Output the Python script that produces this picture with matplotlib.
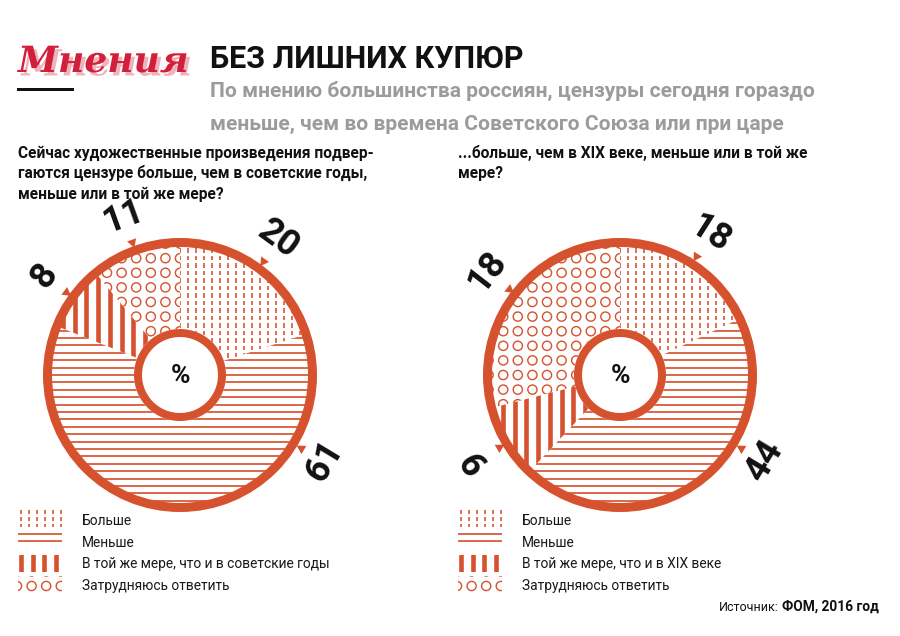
import numpy as np
import matplotlib
matplotlib.use('Agg')
import matplotlib.pyplot as plt
import matplotlib.patheffects as pe
from matplotlib.collections import LineCollection, PatchCollection
from matplotlib.patches import Circle, Rectangle

plt.rcParams['font.family'] = ['Roboto', 'DejaVu Sans']

# data
patterns = ['dash', 'hline', 'bar', 'ring']
left_values = [20, 61, 8, 11]
left_labels = ['20', '61', '8', '11']
right_values = [18, 44, 9, 29]
right_labels = ['18', '44', '9', '18']
left_legend = ['Больше', 'Меньше', 'В той же мере, что и в советские годы',
               'Затрудняюсь ответить']
right_legend = ['Больше', 'Меньше', 'В той же мере, что и в XIX веке',
                'Затрудняюсь ответить']
left_question = ['Сейчас художественные произведения подвер-',
                 'гаются цензуре больше, чем в советские годы,',
                 'меньше или в той же мере?']
right_question = ['...больше, чем в XIX веке, меньше или в той же',
                  'мере?']
title = 'БЕЗ ЛИШНИХ КУПЮР'
subtitle = ['По мнению большинства россиян, цензуры сегодня гораздо',
            'меньше, чем во времена Советского Союза или при царе']

W, H = 900, 636
PT = 0.72
ORANGE = '#d6522e'

fig = plt.figure(figsize=(W / 100, H / 100), dpi=100)
ax0 = fig.add_axes([0, 0, 1, 1])
ax0.set_xlim(0, W)
ax0.set_ylim(H, 0)
ax0.axis('off')


def draw_pattern(ax, kind, clip, ext, x0=0.0, y0=0.0):
    "Texture lines / circles over ext, clipped to a patch"
    xa, xb, ya, yb = ext
    if kind == 'dash':
        xs = np.concatenate([np.arange(x0 - 8.0, xa, -8.0)[::-1],
                             np.arange(x0, xb, 8.0)])
        ys = np.arange(ya, yb, 7.5)
        segs = [[(x, y), (x, y + 4.5)] for x in xs for y in ys]
        art = LineCollection(segs, colors=ORANGE, linewidths=1.6 * PT,
                             capstyle='butt')
    elif kind == 'hline':
        ys = np.concatenate([np.arange(y0 - 7.4, ya, -7.4)[::-1],
                             np.arange(y0, yb, 7.4)])
        segs = [[(xa, y), (xb, y)] for y in ys]
        art = LineCollection(segs, colors=ORANGE, linewidths=1.7 * PT)
    elif kind == 'bar':
        xs = np.concatenate([np.arange(x0 - 11.7, xa, -11.7)[::-1],
                             np.arange(x0, xb, 11.7)])
        segs = [[(x, ya), (x, yb)] for x in xs]
        art = LineCollection(segs, colors=ORANGE, linewidths=4.6 * PT,
                             capstyle='butt')
    else:
        xs = np.concatenate([np.arange(x0 - 14.6, xa - 10, -14.6)[::-1],
                             np.arange(x0, xb + 10, 14.6)])
        ys = np.concatenate([np.arange(y0 - 14.6, ya - 10, -14.6)[::-1],
                             np.arange(y0, yb + 10, 14.6)])
        circ = [Circle((x, y), 4.6) for x in xs for y in ys]
        art = PatchCollection(circ, facecolor='none', edgecolor=ORANGE,
                              linewidths=1.4 * PT)
    ax.add_collection(art)
    art.set_clip_path(clip)


def donut(cx, cy, values, labels):
    R = 200
    ax = fig.add_axes([(cx - R) / W, (H - cy - R) / H, 2 * R / W, 2 * R / H])
    wedges, _ = ax.pie(values, radius=133, startangle=90, counterclock=False,
                       colors=['white'] * len(values),
                       wedgeprops=dict(linewidth=0))
    ax.set_xlim(-R, R)
    ax.set_ylim(-R, R)
    ax.set_aspect('equal')
    ax.axis('off')
    for w, kind in zip(wedges, patterns):
        draw_pattern(ax, kind, w, (-140, 140, -140, 140))
    ax.add_patch(Circle((0, 0), 132.5, fill=False, ec=ORANGE, lw=9 * PT,
                        zorder=4))
    ax.add_patch(Circle((0, 0), 46, fc='white', ec='none', zorder=5))
    ax.add_patch(Circle((0, 0), 42, fill=False, ec=ORANGE, lw=8 * PT,
                        zorder=6))
    ax.text(0, -1, '%', ha='center', va='center', fontsize=19,
            fontweight='bold', color='#111111', zorder=7)
    for i, (w, lab) in enumerate(zip(wedges, labels)):
        phi = (w.theta1 + w.theta2) / 2
        if i == 1:
            phi = -31  # big slice label sits low on the right
        a = np.deg2rad(phi)
        ax.plot(141 * np.cos(a), 141 * np.sin(a), marker=(3, 0, phi + 90),
                ms=8, color=ORANGE, mec='none', clip_on=False, zorder=8)
        rot = (phi - 90 + 180) % 360 - 180
        if rot < -90:
            rot += 180
        ax.text(168 * np.cos(a), 168 * np.sin(a), lab, rotation=rot,
                rotation_mode='anchor', ha='center', va='center',
                fontsize=26, fontweight='bold', color='#111111')


def legend(x_icon, x_text, items):
    ys = [525, 547, 568, 590]
    rects = [(510, 17), (531, 14), (555, 17), (576, 16)]
    starts = [(20.5, 0), (0, 534), (21, 0), (17, 586)]
    for kind, (ry, rh), (sx, sy), txt, yb in zip(patterns, rects, starts,
                                                  items, ys):
        clip = Rectangle((x_icon, ry), 44, rh, transform=ax0.transData)
        draw_pattern(ax0, kind, clip, (x_icon - 5, x_icon + 50, ry - 16,
                                       ry + rh + 16),
                     x0=x_icon - 18 + sx, y0=sy)
        ax0.text(x_text, yb, txt, fontsize=9.9, color='#1a1a1a',
                 va='baseline')


# logo
ax0.text(18, 72, 'Мнения', family='DejaVu Serif', style='italic',
         fontweight='bold', fontsize=26, color='#d2203c', va='baseline',
         path_effects=[pe.SimplePatchShadow(offset=(2.5, -2.5),
                                            shadow_rgbFace='#eeb3bb',
                                            alpha=1.0),
                       pe.Normal()])
ax0.plot([18, 72], [89, 89], color='#111111', lw=3 * PT)

# headings
ax0.text(210, 68, title, fontsize=22, fontweight='bold', color='#111111',
         va='baseline')
for line, yb in zip(subtitle, [97, 130]):
    ax0.text(210, yb, line, fontsize=15.1, fontweight='bold',
             color='#9a9b9d', va='baseline')

for line, yb in zip(left_question, [158, 178, 199]):
    ax0.text(18, yb, line, fontsize=11.2, fontweight='bold', color='#111111',
             va='baseline')
for line, yb in zip(right_question, [158, 178]):
    ax0.text(458, yb, line, fontsize=11.2, fontweight='bold', color='#111111',
             va='baseline')

donut(180, 375, left_values, left_labels)
donut(620, 375, right_values, right_labels)

legend(18, 82, left_legend)
legend(458, 522, right_legend)

ax0.text(779, 611, 'Источник:', fontsize=9, ha='right', va='baseline',
         color='#111111')
ax0.text(782, 611, 'ФОМ, 2016 год', fontsize=9.9, fontweight='bold',
         ha='left', va='baseline', color='#111111')

fig.savefig('out.png', dpi=100)
